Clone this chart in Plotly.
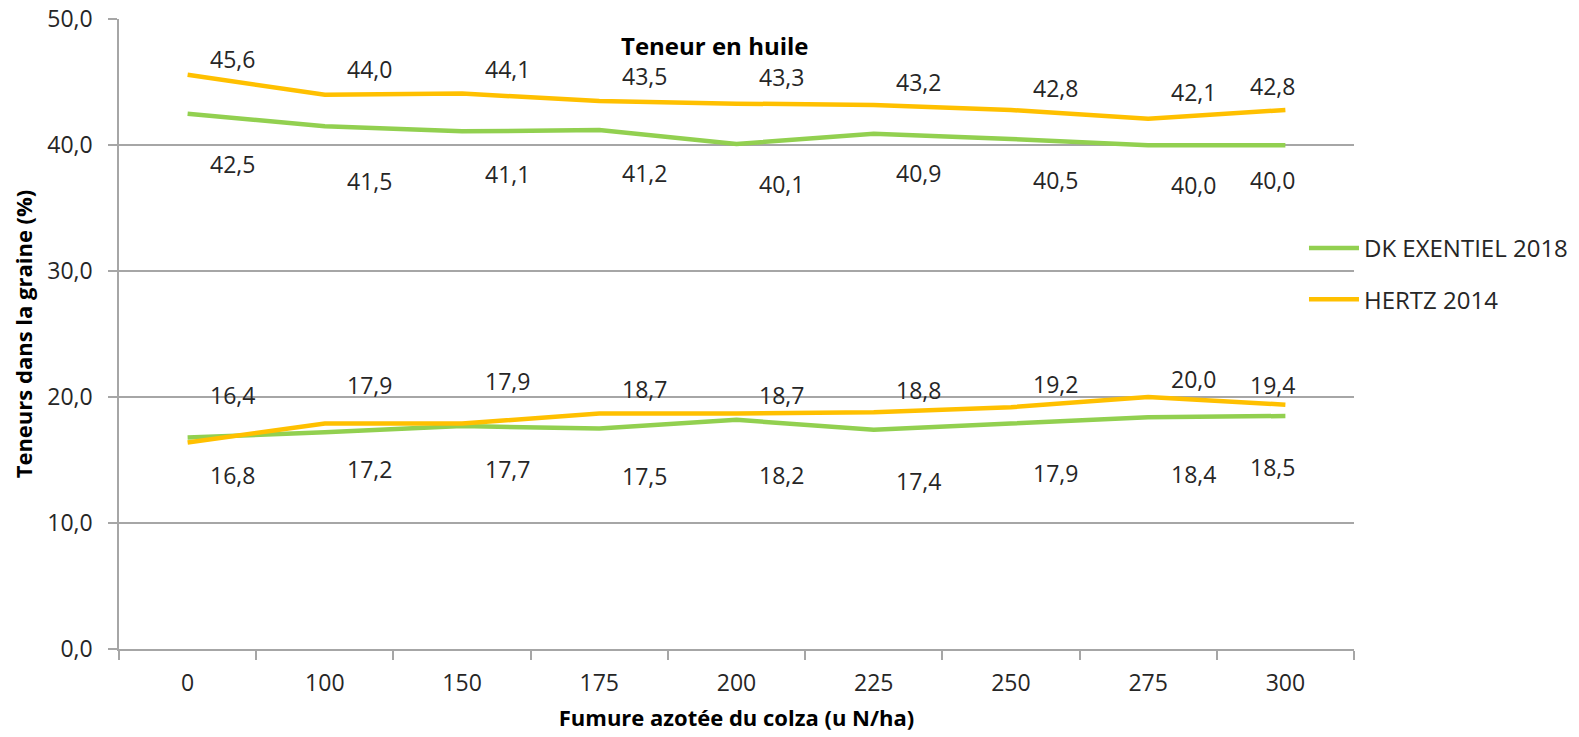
import plotly.graph_objects as go

categories = ["0", "100", "150", "175", "200", "225", "250", "275", "300"]

huile_dk = [42.5, 41.5, 41.1, 41.2, 40.1, 40.9, 40.5, 40.0, 40.0]
huile_hertz = [45.6, 44.0, 44.1, 43.5, 43.3, 43.2, 42.8, 42.1, 42.8]
prot_dk = [16.8, 17.2, 17.7, 17.5, 18.2, 17.4, 17.9, 18.4, 18.5]
prot_hertz = [16.4, 17.9, 17.9, 18.7, 18.7, 18.8, 19.2, 20.0, 19.4]

series_names = ["DK EXENTIEL 2018", "HERTZ 2014"]
y_ticks = [0, 10, 20, 30, 40, 50]

# label offsets (pixels) - styling only
xshift_lbl = [45, 45, 45, 45, 45, 45, 45, 45, -13]
ys_huile_hertz = [16, 26, 25, 25, 27, 23, 22, 27, 24]
ys_huile_dk = [-50, -55, -43, -43, -40, -39, -41, -40, -35]
ys_prot_hertz = [47, 39, 43, 24, 18, 22, 23, 18, 20]
ys_prot_dk = [-38, -37, -43, -47, -55, -51, -49, -57, -51]

GREEN = "#92D050"
ORANGE = "#FFC000"
FONT = "Open Sans"
TXT = "#262626"
LBL = 23

fig = go.Figure()

def add_line(vals, color, name, group, show):
    fig.add_trace(go.Scatter(
        x=categories, y=vals, mode="lines", name=name,
        line=dict(color=color, width=4.5),
        legendgroup=group, showlegend=show, hoverinfo="skip"))

add_line(huile_dk, GREEN, series_names[0], "dk", True)
add_line(prot_dk, GREEN, series_names[0], "dk", False)
add_line(huile_hertz, ORANGE, series_names[1], "hertz", True)
add_line(prot_hertz, ORANGE, series_names[1], "hertz", False)

def fmt(v):
    return f"{v:.1f}".replace(".", ",")

ann = []
for vals, ys in [(huile_hertz, ys_huile_hertz), (huile_dk, ys_huile_dk),
                 (prot_hertz, ys_prot_hertz), (prot_dk, ys_prot_dk)]:
    for i, (v, xs, yy) in enumerate(zip(vals, xshift_lbl, ys)):
        ann.append(dict(x=i, y=v, xref="x", yref="y", text=fmt(v), showarrow=False,
                        xshift=xs, yshift=yy, font=dict(family=FONT, size=LBL, color=TXT)))

ann.append(dict(x=0.4826, y=0.9587, xref="paper", yref="paper", xanchor="center",
                yanchor="middle", text="<b>Teneur en huile</b>",
                showarrow=False, font=dict(family=FONT, size=24, color="#000000")))

fig.update_layout(
    width=1579, height=737,
    margin=dict(l=111, r=233, t=11, b=96, autoexpand=False),
    paper_bgcolor="white", plot_bgcolor="white",
    separators=", ",
    font=dict(family=FONT, size=LBL, color=TXT),
    annotations=ann,
    legend=dict(x=0.9595, y=0.6714, xanchor="left", yanchor="top",
                font=dict(family=FONT, size=24, color=TXT),
                tracegroupgap=17, itemwidth=50, bgcolor="rgba(0,0,0,0)"),
    xaxis=dict(type="category", categoryorder="array", categoryarray=categories,
               range=[-0.5, 8.5], showgrid=False, showline=True, linecolor="#A6A6A6",
               linewidth=1.5, ticks="outside", tickson="boundaries", ticklen=9,
               tickcolor="#A6A6A6", tickwidth=1.5, automargin=False, ticklabelstandoff=13,
               tickfont=dict(family=FONT, size=LBL, color=TXT),
               title=dict(text="<b>Fumure azotée du colza (u N/ha)</b>", standoff=13,
                          font=dict(family=FONT, size=22, color="#000000"))),
    yaxis=dict(range=[0, 50.02], tickvals=y_ticks, tickformat=".1f", showgrid=True,
               gridcolor="#A6A6A6", gridwidth=1.5, showline=True, linecolor="#A6A6A6",
               linewidth=1.5, ticks="outside", ticklen=9, tickcolor="#A6A6A6", tickwidth=1.5,
               zeroline=False, ticklabelstandoff=11, automargin=False,
               ticklabeloverflow="allow",
               tickfont=dict(family=FONT, size=LBL, color=TXT),
               title=dict(text="<b>Teneurs dans la graine (%)</b>", standoff=11,
                          font=dict(family=FONT, size=22, color="#000000"))),
)

fig.write_html("out.html")
